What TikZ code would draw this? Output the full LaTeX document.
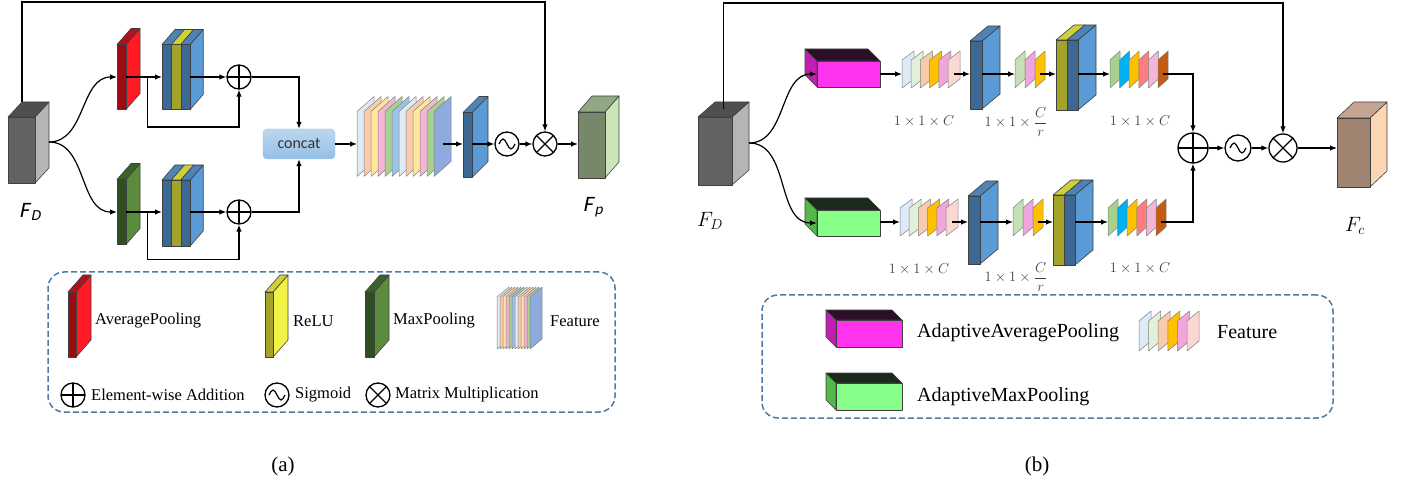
\documentclass[tikz,border=0pt]{standalone}
\usepackage{fontspec}
\setmainfont{Liberation Serif}
\newfontfamily\carlito{Carlito}
\newfontfamily\carlitoit{Carlito}[FakeSlant=0.2]
\usepackage{tikz}
\usetikzlibrary{calc,arrows.meta}
\definecolor{gfront}{HTML}{626262}
\definecolor{gtop}{HTML}{4F4F4F}
\definecolor{gside}{HTML}{B5B5B5}
\definecolor{rfront}{HTML}{9C0A14}
\definecolor{rtop}{HTML}{B3101C}
\definecolor{rside}{HTML}{FF1A24}
\definecolor{mfront}{HTML}{2E4F20}
\definecolor{mtop}{HTML}{3B6229}
\definecolor{mside}{HTML}{5B8C3E}
\definecolor{bfront}{HTML}{3D6894}
\definecolor{btop}{HTML}{4F82B5}
\definecolor{bside}{HTML}{5B9BD5}
\definecolor{yfront}{HTML}{A3A32A}
\definecolor{ytop}{HTML}{CFCF3C}
\definecolor{yside}{HTML}{F2F245}
\definecolor{pfront}{HTML}{75896A}
\definecolor{ptop}{HTML}{91A884}
\definecolor{pside}{HTML}{CBE4B9}
\definecolor{magfront}{HTML}{FF33EE}
\definecolor{magtop}{HTML}{2A0F26}
\definecolor{magside}{HTML}{C21FB2}
\definecolor{lgfront}{HTML}{88FF88}
\definecolor{lgtop}{HTML}{1B2A1B}
\definecolor{lgside}{HTML}{55B84A}
\definecolor{cfront}{HTML}{A08472}
\definecolor{ctop}{HTML}{C4A592}
\definecolor{cside}{HTML}{FCD5B5}
\definecolor{fa1}{HTML}{DEEBF7}
\definecolor{fa2}{HTML}{F8CBAD}
\definecolor{fa3}{HTML}{FFE699}
\definecolor{fa4}{HTML}{F4B6D6}
\definecolor{fa5}{HTML}{A9D18E}
\definecolor{fa6}{HTML}{9DC3E6}
\definecolor{fa7}{HTML}{8FAADC}
\definecolor{fb1}{HTML}{E2F0D9}
\definecolor{fb2}{HTML}{FFC000}
\definecolor{fb3}{HTML}{F0A6DC}
\definecolor{fb4}{HTML}{FBD7D2}
\definecolor{fb5}{HTML}{C5E0B4}
\definecolor{fb6}{HTML}{00B0F0}
\definecolor{fb7}{HTML}{FF7C80}
\definecolor{fb8}{HTML}{C55A11}
\definecolor{legblue}{HTML}{4F7AA6}
\definecolor{cattop}{HTML}{BDD7EE}
\definecolor{catbot}{HTML}{94BFE6}
\newcommand{\cuboid}[9]{
\node[inner sep=0pt, outer sep=0pt, minimum width=#3pt, minimum height=#4pt] at #2 (#1) {};
\filldraw[fill=#9, face] (#1.north #6) -- ++#5 -- ($(#1.south #6)+#5$) -- (#1.south #6) -- cycle;
\filldraw[fill=#8, face] (#1.north west) -- ++#5 -- ($(#1.north east)+#5$) -- (#1.north east) -- cycle;
\filldraw[fill=#7, face] (#1.south west) rectangle (#1.north east);
}
\newcommand{\featstack}[8]{
\foreach \col [count=\k from 0] in {#8} {
  \filldraw[fill=\col, sheet] (#2+\k*#4, #3+#5/2) -- ++(0,-#5) -- ++(#6,#7) -- ++(0,#5) -- cycle;
  \coordinate (#1-out) at (#2+\k*#4+#6/2, #3);
}
\coordinate (#1-in) at (#2, #3);
}
\tikzset{
  face/.style={draw=black!75, line width=0.6pt, line join=round},
  sheet/.style={draw=black!50, line width=0.5pt, line join=round},
  arr/.style={-{Latex[length=7pt,width=5.5pt]}, line width=1.2pt},
  opnode/.style={circle, draw, line width=1.3pt, fill=white, inner sep=0pt, minimum size=24pt},
  addop/.style={opnode, path picture={\draw[line width=1.3pt] (path picture bounding box.north) -- (path picture bounding box.south) (path picture bounding box.west) -- (path picture bounding box.east);}},
  mulop/.style={opnode, path picture={\draw[line width=1.3pt] (path picture bounding box.north west) -- (path picture bounding box.south east) (path picture bounding box.north east) -- (path picture bounding box.south west);}},
  sigop/.style={opnode, path picture={\draw[line width=1.2pt] ($(path picture bounding box.center)+(-8,0)$) sin ++(4,-5) cos ++(4,5) sin ++(4,5) cos ++(4,-5);}},
  concatbox/.style={rounded corners=4pt, draw=fa6, top color=cattop, bottom color=catbot, minimum width=72pt, minimum height=30pt, font=\carlito\fontsize{16}{18}\selectfont, text=black!80},
  legendbox/.style={draw=legblue, dash pattern=on 6pt off 3pt, line width=1.5pt, rounded corners=16pt, inner sep=0pt},
  legtxtA/.style={anchor=west, inner sep=0pt, font=\fontsize{16.5}{18}\selectfont},
  legtxtB/.style={anchor=west, inner sep=0pt, font=\fontsize{20}{22}\selectfont},
  dimtxt/.style={inner sep=0pt, font=\fontsize{14}{16}\selectfont, text=black!75},
  captxt/.style={font=\fontsize{21}{24}\selectfont}
}
\begin{document}
\begin{tikzpicture}[x=1pt,y=-1pt]
\useasboundingbox (0,0) rectangle (1409,489);
% (a)
\cuboid{fdA}{(21.5,150)}{27}{66}{(14,-15)}{east}{gfront}{gtop}{gside}
\cuboid{avgA}{(121.5,77)}{9}{65}{(14,-16)}{east}{rfront}{rtop}{rside}
\cuboid{maxA}{(121.5,212)}{9}{65}{(14,-16)}{east}{mfront}{mtop}{mside}
\cuboid{blkA1}{(166.7,77)}{9.4}{65}{(13,-15)}{east}{bfront}{btop}{bside}
\cuboid{blkA2}{(176.1,77)}{9.4}{65}{(13,-15)}{east}{yfront}{ytop}{yside}
\cuboid{blkA3}{(185.5,77)}{9.4}{65}{(13,-15)}{east}{bfront}{btop}{bside}
\cuboid{blkB1}{(166.7,213)}{9.4}{66}{(13,-15)}{east}{bfront}{btop}{bside}
\cuboid{blkB2}{(176.1,213)}{9.4}{66}{(13,-15)}{east}{yfront}{ytop}{yside}
\cuboid{blkB3}{(185.5,213)}{9.4}{66}{(13,-15)}{east}{bfront}{btop}{bside}
\node[addop] at (239,77) (addA1) {};
\node[addop] at (239,212) (addA2) {};
\node[concatbox] at (299,144) (cat) {concat};
\featstack{featA}{357}{144}{7}{65}{17}{-15}{fa1,fa2,fa3,fa4,fa5,fa6,fa1,fa2,fa3,fa4,fa5,fa7}
\cuboid{bluA}{(467.5,145)}{9}{65}{(16,-16)}{east}{bfront}{btop}{bside}
\node[sigop] at (507,144) (sigA) {};
\node[mulop] at (545,144) (mulA) {};
\cuboid{fpA}{(591.5,145)}{27}{66}{(14,-16)}{east}{pfront}{ptop}{pside}
\node[font=\carlitoit\fontsize{22}{24}\selectfont] at (30,212) (lblFD) {F\kern1.5pt\textsubscript{D}};
\node[font=\carlitoit\fontsize{22}{24}\selectfont] at (593,207) (lblFp) {F\kern1.5pt\textsubscript{p}};
\coordinate (fdAout) at ($(fdA.east)+(14,-8)$);
\draw[arr] (fdAout) to[out=0,in=180] (avgA.west);
\draw[arr] (fdAout) to[out=0,in=180] (maxA.west);
\draw[arr] (avgA.east) -- (blkA1.west);
\draw[arr] (maxA.east) -- (maxA.east -| blkB1.west);
\coordinate (splitA1) at ($(avgA.east)!0.6!(blkA1.west)$);
\coordinate (splitA2) at ($(maxA.east)!0.6!(blkB1.west)$);
\draw[arr] (splitA1) -- ++(0,50) -| (addA1.south);
\draw[arr] (splitA2) -- ++(0,47) -| (addA2.south);
\draw[arr] (blkA3.east) -- (addA1.west);
\draw[arr] (addA2.west -| blkB3.east) -- (addA2.west);
\draw[arr] (addA1.east) -| (cat.north);
\draw[arr] (addA2.east) -| (cat.south);
\draw[arr] (cat.east) -- (featA-in);
\draw[arr] (featA-out) -- (featA-out -| bluA.west);
\draw[arr] (sigA.west -| bluA.east) -- (sigA.west);
\draw[arr] (sigA.east) -- (mulA.west);
\draw[arr] (mulA.east) -- (mulA.east -| fpA.west);
\coordinate (topA) at (545,2);
\draw[arr] ($(fdA.north west)+(14,-15)$) |- (topA) -- (mulA.north);
\node[legendbox, minimum width=567pt, minimum height=140pt] at (331.5,342) (legA) {};
\cuboid{lgAvg}{(72,324.5)}{8}{65}{(15,-17)}{east}{rfront}{rtop}{rside}
\node[legtxtA] at (95,321) (lgAvgT) {AveragePooling};
\cuboid{lgRelu}{(269,324.5)}{8}{65}{(15,-17)}{east}{yfront}{ytop}{yside}
\node[legtxtA] at (293,321) (lgReluT) {ReLU};
\cuboid{lgMax}{(369.5,324.5)}{9}{65}{(15,-17)}{east}{mfront}{mtop}{mside}
\node[legtxtA] at (393,321) (lgMaxT) {MaxPooling};
\featstack{lgFeatA}{497}{323}{3}{52}{12}{-10}{fa1,fa2,fa3,fa4,fa5,fa6,fa1,fa2,fa3,fa4,fa5,fa7}
\node[legtxtA] at (550,321) (lgFeatAT) {Feature};
\node[addop] at (73,395) (lgAdd) {};
\node[legtxtA] at (91,395) (lgAddT) {Element-wise Addition};
\node[sigop] at (277,395) (lgSig) {};
\node[legtxtA] at (295,395) (lgSigT) {Sigmoid};
\node[mulop] at (378,395) (lgMul) {};
\node[legtxtA] at (395,395) (lgMulT) {Matrix Multiplication};
\node[captxt] at (283,466) (capA) {(a)};
% (b)
\cuboid{fdB}{(715,151)}{34}{68}{(17,-15)}{east}{gfront}{gtop}{gside}
\cuboid{avgB}{(848.5,74)}{63}{26}{(-12,-12)}{west}{magfront}{magtop}{magside}
\cuboid{maxB}{(848.5,223)}{63}{26}{(-12,-12)}{west}{lgfront}{lgtop}{lgside}
\featstack{fB1}{902}{74}{9.2}{28}{12}{-9}{fa1,fb1,fa2,fb2,fb3,fb4}
\featstack{fB4}{900}{222}{9.2}{28}{12}{-9}{fa1,fb1,fa2,fb2,fb3,fb4}
\cuboid{bluB1}{(976,75)}{12}{68}{(18,-15)}{east}{bfront}{btop}{bside}
\cuboid{bluB2}{(974,230)}{12}{68}{(18,-15)}{east}{bfront}{btop}{bside}
\featstack{fB2}{1015}{74}{10}{28}{10}{-9}{fb5,fb3,fb2}
\featstack{fB5}{1013}{222}{10}{28}{10}{-9}{fb5,fb3,fb2}
\cuboid{ybB1}{(1061.5,75)}{11}{70}{(18,-15)}{east}{yfront}{ytop}{yside}
\cuboid{ybB2}{(1072.5,75)}{11}{70}{(18,-15)}{east}{bfront}{btop}{bside}
\cuboid{ybB3}{(1058.5,230)}{11}{70}{(18,-15)}{east}{yfront}{ytop}{yside}
\cuboid{ybB4}{(1069.5,230)}{11}{70}{(18,-15)}{east}{bfront}{btop}{bside}
\featstack{fB3}{1110}{74}{9.6}{28}{10}{-9}{fa5,fb6,fb2,fb7,fa4,fb8}
\featstack{fB6}{1108}{222}{9.6}{28}{10}{-9}{fa5,fb6,fb2,fb7,fa4,fb8}
\node[addop, minimum size=30pt] at (1193,148) (addB) {};
\node[sigop, minimum size=26pt] at (1238,148) (sigB) {};
\node[mulop, minimum size=28pt] at (1283,148) (mulB) {};
\cuboid{fcB}{(1353.5,152.5)}{33}{69}{(17,-16)}{east}{cfront}{ctop}{cside}
\node[font=\fontsize{20}{22}\selectfont] at (710,221) (lblFDb) {$F_D$};
\node[font=\fontsize{20}{22}\selectfont] at (1355,226) (lblFc) {$F_c$};
\node[dimtxt] at (924,121) (dim1) {$1\times1\times C$};
\node[dimtxt] at (1016,122) (dim2) {$1\times1\times{\displaystyle\frac{C}{r}}$};
\node[dimtxt] at (1140,121) (dim3) {$1\times1\times C$};
\node[dimtxt] at (919,269) (dim4) {$1\times1\times C$};
\node[dimtxt] at (1016,277) (dim5) {$1\times1\times{\displaystyle\frac{C}{r}}$};
\node[dimtxt] at (1140,268) (dim6) {$1\times1\times C$};
\coordinate (fdBout) at ($(fdB.east)+(17,-8)$);
\draw[arr] (fdBout) to[out=0,in=180] (avgB.west);
\draw[arr] (fdBout) to[out=0,in=180] (maxB.west);
\draw[arr] (avgB.east) -- (fB1-in);
\draw[arr] (fB4-in -| maxB.east) -- (fB4-in);
\draw[arr] (fB1-out) -- (fB1-out -| bluB1.west);
\draw[arr] (fB4-out) -- (fB4-out -| bluB2.west);
\draw[arr] (fB2-in -| bluB1.east) -- (fB2-in);
\draw[arr] (fB5-in -| bluB2.east) -- (fB5-in);
\draw[arr] (fB2-out) -- (fB2-out -| ybB1.west);
\draw[arr] (fB5-out) -- (fB5-out -| ybB3.west);
\draw[arr] (fB3-in -| ybB2.east) -- (fB3-in);
\draw[arr] (fB6-in -| ybB4.east) -- (fB6-in);
\draw[arr] (fB3-out) -| (addB.north);
\draw[arr] (fB6-out) -| (addB.south);
\draw[arr] (addB.east) -- (sigB.west);
\draw[arr] (sigB.east) -- (mulB.west);
\draw[arr] (mulB.east) -- (mulB.east -| fcB.west);
\coordinate (topB) at (1283,3);
\draw[arr] ($(fdB.north)+(8.5,-7.5)$) |- (topB) -- (mulB.north);
\node[legendbox, minimum width=571pt, minimum height=123pt] at (1047.5,356.5) (legB) {};
\cuboid{lgAAvg}{(869,333.5)}{66}{27}{(-10,-10)}{west}{magfront}{magtop}{magside}
\node[legtxtB] at (917,333) (lgAAvgT) {AdaptiveAveragePooling};
\featstack{lgFeatB}{1139}{336}{9.6}{30}{12}{-10}{fa1,fb1,fa2,fb2,fb3,fb4}
\node[legtxtB] at (1217,332) (lgFeatBT) {Feature};
\cuboid{lgAMax}{(869,396.5)}{66}{27}{(-10,-10)}{west}{lgfront}{lgtop}{lgside}
\node[legtxtB] at (917,397) (lgAMaxT) {AdaptiveMaxPooling};
\node[captxt] at (1037,466) (capB) {(b)};
\end{tikzpicture}
\end{document}
